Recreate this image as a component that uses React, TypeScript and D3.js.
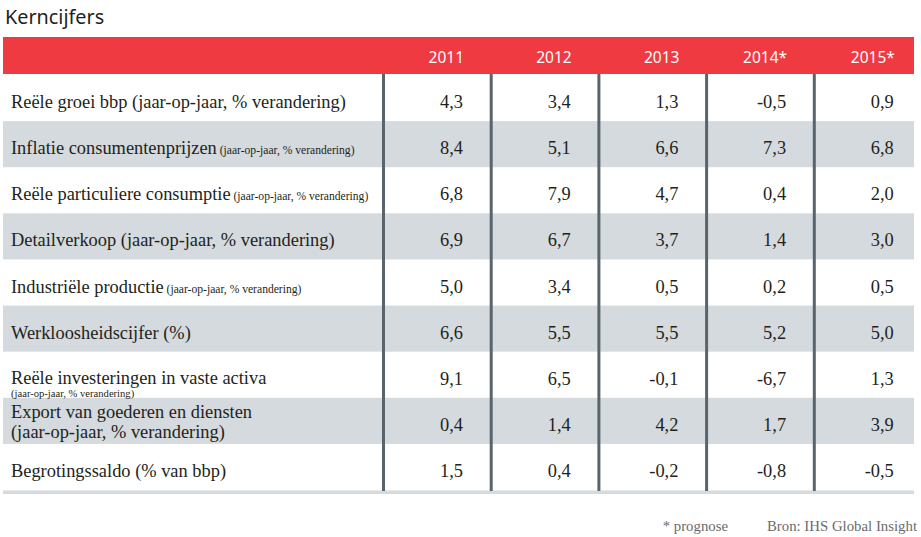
import React from "react";
import * as d3 from "d3";

const title = "Kerncijfers";
const years = ["2011", "2012", "2013", "2014*", "2015*"];
const mainLabels = [
  "Reële groei bbp (jaar-op-jaar, % verandering)",
  "Inflatie consumentenprijzen",
  "Reële particuliere consumptie",
  "Detailverkoop (jaar-op-jaar, % verandering)",
  "Industriële productie",
  "Werkloosheidscijfer (%)",
  "Reële investeringen in vaste activa",
  "Export van goederen en diensten",
  "Begrotingssaldo (% van bbp)",
];
const subLabels = [
  "",
  "(jaar-op-jaar, % verandering)",
  "(jaar-op-jaar, % verandering)",
  "",
  "(jaar-op-jaar, % verandering)",
  "",
  "(jaar-op-jaar, % verandering)",
  "(jaar-op-jaar, % verandering)",
  "",
];
// how the sub label is placed: inline small, below small, second full-size line
const subMode = ["", "inline", "inline", "", "inline", "", "below", "line2", ""];

const v2011 = [4.3, 8.4, 6.8, 6.9, 5.0, 6.6, 9.1, 0.4, 1.5];
const v2012 = [3.4, 5.1, 7.9, 6.7, 3.4, 5.5, 6.5, 1.4, 0.4];
const v2013 = [1.3, 6.6, 4.7, 3.7, 0.5, 5.5, -0.1, 4.2, -0.2];
const v2014 = [-0.5, 7.3, 0.4, 1.4, 0.2, 5.2, -6.7, 1.7, -0.8];
const v2015 = [0.9, 6.8, 2.0, 3.0, 0.5, 5.0, 1.3, 3.9, -0.5];
const seriesValues = [v2011, v2012, v2013, v2014, v2015];

const footNote = "* prognose";
const source = "Bron: IHS Global Insight";

const W = 921;
const H = 537;
const RED = "#ef3a42";
const GRAY = "#d4dadd";
const LINE = "#5a646c";
const TEXT = "#231f20";
const SERIF = "'Liberation Serif', 'DejaVu Serif', serif";
const SANS = "'Noto Sans', 'Open Sans', sans-serif";
const FS = 18.4;
const FS_SMALL = 11.6;

const locale = d3.formatLocale({
  decimal: ",",
  thousands: ".",
  grouping: [3],
  currency: ["", ""],
  minus: "-",
});
const fmt = locale.format(".1f");

export default function App() {
  const rowIdx = mainLabels.map((_, i) => i);
  const y = d3.scaleBand<number>().domain(rowIdx).range([75, 490]).padding(0);
  const x = d3.scaleBand<string>().domain(years).range([382.5, 921]).padding(0);
  const tableLeft = 3;
  const tableRight = 914;
  const valueOffset = 80.5;

  return (
    <svg
      width={W}
      height={H}
      style={{ position: "absolute", left: 0, top: 0, background: "#fff" }}
    >
      <text x={5} y={24} fontFamily={SANS} fontSize={19.8} fill={TEXT}>
        {title}
      </text>
      {/* header */}
      <rect x={tableLeft} y={37} width={tableRight - tableLeft} height={37} fill={RED} />
      {years.map((yr) => (
        <text
          key={yr}
          x={(x(yr) as number) + valueOffset + 1}
          y={63}
          textAnchor="end"
          fontFamily={SANS}
          fontSize={15.5}
          fill="#fff"
        >
          {yr}
        </text>
      ))}
      {/* row backgrounds */}
      {rowIdx.map((i) =>
        i % 2 === 1 ? (
          <rect
            key={"bg" + i}
            x={tableLeft}
            y={y(i)}
            width={tableRight - tableLeft}
            height={y.bandwidth()}
            fill={GRAY}
          />
        ) : null
      )}
      {/* bottom line */}
      <rect x={tableLeft} y={490.5} width={tableRight - tableLeft} height={3.5} fill={GRAY} />
      {/* vertical separators */}
      {years.map((yr) => (
        <line
          key={"vl" + yr}
          x1={(x(yr) as number) + 1}
          x2={(x(yr) as number) + 1}
          y1={74}
          y2={491}
          stroke={LINE}
          strokeWidth={3}
        />
      ))}
      {/* labels */}
      {rowIdx.map((i) => {
        const top = y(i) as number;
        const mid = top + y.bandwidth() / 2;
        const mode = subMode[i];
        if (mode === "line2") {
          return (
            <g key={"lab" + i}>
              <text x={11} y={top + 20} fontFamily={SERIF} fontSize={FS} fill={TEXT}>
                {mainLabels[i]}
              </text>
              <text x={11} y={top + 40} fontFamily={SERIF} fontSize={FS} fill={TEXT}>
                {subLabels[i]}
              </text>
            </g>
          );
        }
        if (mode === "below") {
          return (
            <g key={"lab" + i}>
              <text x={11} y={mid + 9} fontFamily={SERIF} fontSize={FS} fill={TEXT}>
                {mainLabels[i]}
              </text>
              <text x={11} y={mid + 22} fontFamily={SERIF} fontSize={FS_SMALL - 1} fill={TEXT}>
                {subLabels[i]}
              </text>
            </g>
          );
        }
        return (
          <text key={"lab" + i} x={11} y={mid + 10} fontFamily={SERIF} fontSize={FS} fill={TEXT}>
            {mainLabels[i]}
            {mode === "inline" ? (
              <tspan fontSize={FS_SMALL}>{" " + subLabels[i]}</tspan>
            ) : null}
          </text>
        );
      })}
      {/* values */}
      {years.map((yr, j) =>
        seriesValues[j].map((v, i) => (
          <text
            key={yr + "-" + i}
            x={(x(yr) as number) + valueOffset}
            y={(y(i) as number) + y.bandwidth() / 2 + 10}
            textAnchor="end"
            fontFamily={SERIF}
            fontSize={FS}
            fill={TEXT}
          >
            {fmt(v)}
          </text>
        ))
      )}
      {/* footer */}
      <text x={728} y={531} textAnchor="end" fontFamily={SERIF} fontSize={14.8} fill="#6b6b6b">
        {footNote}
      </text>
      <text x={917} y={531} textAnchor="end" fontFamily={SERIF} fontSize={14.8} fill="#6b6b6b">
        {source}
      </text>
    </svg>
  );
}
